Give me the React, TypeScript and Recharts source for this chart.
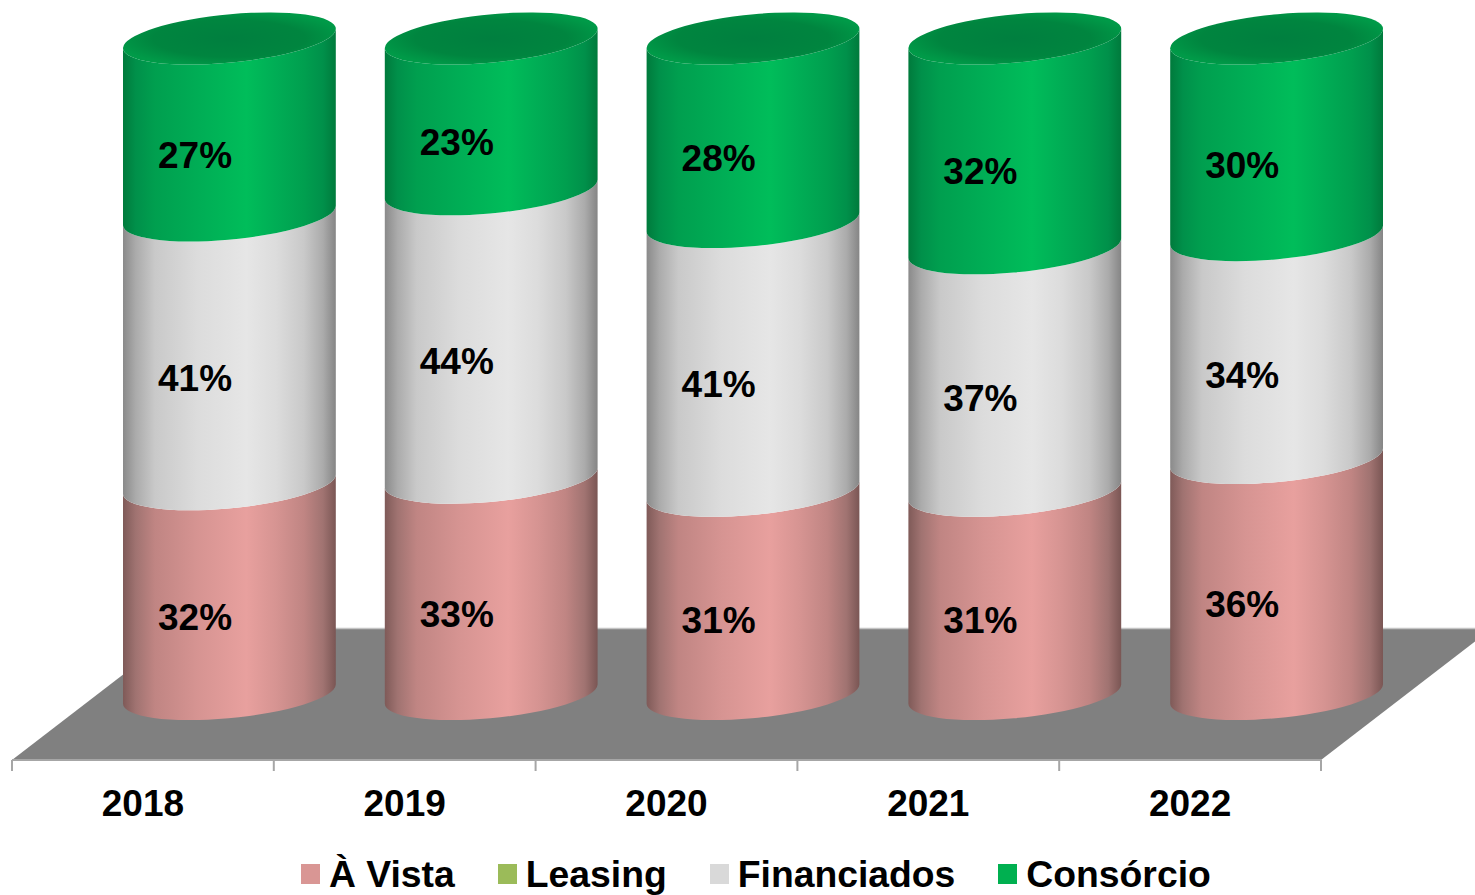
import React from "react";
import { BarChart, Bar, XAxis, YAxis, Legend, LabelList, Customized } from "recharts";

const years = ["2018", "2019", "2020", "2021", "2022"];
const aVista = [32, 33, 31, 31, 36];
const leasing = [0, 0, 0, 0, 0];
const financiados = [41, 44, 41, 37, 34];
const consorcio = [27, 23, 28, 32, 30];

const chartData = years.map((year, i) => ({
  year,
  aVista: aVista[i],
  leasing: leasing[i],
  financiados: financiados[i],
  consorcio: consorcio[i],
}));

const FONT = '"Liberation Sans", Arial, sans-serif';
const DEPTH_X = 86.4;
const DEPTH_Y = -66;
const RX = 106.5;
const RY = 24;
const ROT = -5.5;
const EX = 106.4;
const EY = 9.5;
const BAND = 261.8;

function Cylinder(props: any) {
  const { x, y, width, height, gradient, cap } = props;
  if (!height || height <= 0) return null;
  const cx = x + width / 2 + DEPTH_X;
  const top = y + DEPTH_Y;
  const bot = y + height + DEPTH_Y;
  const arc = (sweep: number, px: number, py: number) => `A${RX} ${RY} ${ROT} 0 ${sweep} ${px} ${py}`;
  const d = `M${cx - EX} ${top + EY} ${arc(0, cx + EX, top - EY)} L${cx + EX} ${bot - EY} ${arc(1, cx - EX, bot + EY)} Z`;
  return (
    <g>
      <path d={d} fill={`url(#${gradient})`} />
      {cap && (
        <path
          d={`M${cx - EX} ${top + EY} ${arc(1, cx + EX, top - EY)} ${arc(1, cx - EX, top + EY)} Z`}
          fill="url(#capGrad)"
        />
      )}
    </g>
  );
}

function PercentLabel(props: any) {
  const { x, y, width, height, value } = props;
  return (
    <text
      x={x + width / 2 + DEPTH_X - 34.4}
      y={y + height / 2 + DEPTH_Y + 28.5}
      textAnchor="middle"
      dominantBaseline="central"
      fontFamily={FONT}
      fontWeight={700}
      fontSize={37}
      fill="#000"
    >
      {value}%
    </text>
  );
}

function Floor() {
  return (
    <g>
      <polygon points="12,760 183,628.5 1492,628.5 1321,760" fill="#808080" />
      <line x1={183} y1={628.5} x2={1475} y2={628.5} stroke="#c4c4c4" strokeWidth={1.5} />
    </g>
  );
}

function YearTick(props: any) {
  const { x, y, payload, index } = props;
  return (
    <g>
      <line x1={x - BAND / 2} y1={760} x2={x - BAND / 2} y2={771} stroke="#a6a6a6" strokeWidth={2} />
      {index === years.length - 1 && (
        <line x1={x + BAND / 2} y1={760} x2={x + BAND / 2} y2={771} stroke="#a6a6a6" strokeWidth={2} />
      )}
      <text x={x} y={y + 35} textAnchor="middle" dominantBaseline="central" fontFamily={FONT} fontWeight={700} fontSize={37} fill="#000">
        {payload.value}
      </text>
    </g>
  );
}

function LegendRow(props: any) {
  const { payload } = props;
  return (
    <div style={{ display: "flex", gap: 43, fontFamily: FONT, fontWeight: 700, fontSize: 37.3, lineHeight: "44px", color: "#000", whiteSpace: "nowrap" }}>
      {(payload || []).map((item: any) => (
        <div key={item.value} style={{ display: "flex", alignItems: "center" }}>
          <span style={{ display: "inline-block", width: 19, height: 20, background: item.color, marginRight: 9 }} />
          <span>{item.value}</span>
        </div>
      ))}
    </div>
  );
}

function stops(list: [number, string][]) {
  return list.map(([o, c]) => <stop key={o} offset={`${o}%`} stopColor={c} />);
}

export default function App() {
  return (
    <div style={{ position: "absolute", left: 0, top: 0, width: 1475, height: 895 }}>
      <BarChart
        width={1475}
        height={895}
        data={chartData}
        stackOffset="none"
        margin={{ top: 104.5, right: 154, bottom: 0, left: 12 }}
        barSize={212}
      >
        <defs>
          <linearGradient id="pinkGrad" x1="0" y1="0" x2="1" y2="0">
            {stops([[0, "#7f5a58"], [6, "#a07371"], [15, "#c08583"], [35, "#d69492"], [58, "#e8a09e"], [72, "#d69492"], [85, "#c08583"], [94, "#a07371"], [100, "#7a5654"]])}
          </linearGradient>
          <linearGradient id="greyGrad" x1="0" y1="0" x2="1" y2="0">
            {stops([[0, "#8a8a8a"], [6, "#ababab"], [15, "#c9c9c9"], [35, "#dcdcdc"], [58, "#e6e6e6"], [72, "#dcdcdc"], [85, "#c9c9c9"], [94, "#ababab"], [100, "#858585"]])}
          </linearGradient>
          <linearGradient id="greenGrad" x1="0" y1="0" x2="1" y2="0">
            {stops([[0, "#007a3c"], [6, "#00904a"], [15, "#009f4f"], [35, "#00ad55"], [58, "#00bd5a"], [72, "#00ad55"], [85, "#009f4f"], [94, "#00904a"], [100, "#007a3c"]])}
          </linearGradient>
          <radialGradient id="capGrad" cx="50%" cy="50%" r="55%">
            <stop offset="0%" stopColor="#007f3f" />
            <stop offset="65%" stopColor="#00853f" />
            <stop offset="100%" stopColor="#009a48" />
          </radialGradient>
        </defs>
        <Customized component={Floor} />
        <XAxis
          dataKey="year"
          height={135}
          axisLine={{ stroke: "#a6a6a6", strokeWidth: 2 }}
          tickLine={false}
          interval={0}
          tick={<YearTick />}
        />
        <YAxis hide domain={[0, 100]} />
        <Legend
          layout="horizontal"
          verticalAlign="middle"
          align="center"
          itemSorter={null}
          wrapperStyle={{ left: 301, top: 852, width: "auto", height: 44 }}
          content={<LegendRow />}
        />
        <Bar dataKey="aVista" name="À Vista" stackId="a" fill="#d99694" isAnimationActive={false} shape={<Cylinder gradient="pinkGrad" />}>
          <LabelList dataKey="aVista" content={<PercentLabel />} />
        </Bar>
        <Bar dataKey="leasing" name="Leasing" stackId="a" fill="#9bbb59" isAnimationActive={false} shape={<Cylinder gradient="pinkGrad" />} />
        <Bar dataKey="financiados" name="Financiados" stackId="a" fill="#d9d9d9" isAnimationActive={false} shape={<Cylinder gradient="greyGrad" />}>
          <LabelList dataKey="financiados" content={<PercentLabel />} />
        </Bar>
        <Bar dataKey="consorcio" name="Consórcio" stackId="a" fill="#00b050" isAnimationActive={false} shape={<Cylinder gradient="greenGrad" cap />}>
          <LabelList dataKey="consorcio" content={<PercentLabel />} />
        </Bar>
      </BarChart>
    </div>
  );
}
